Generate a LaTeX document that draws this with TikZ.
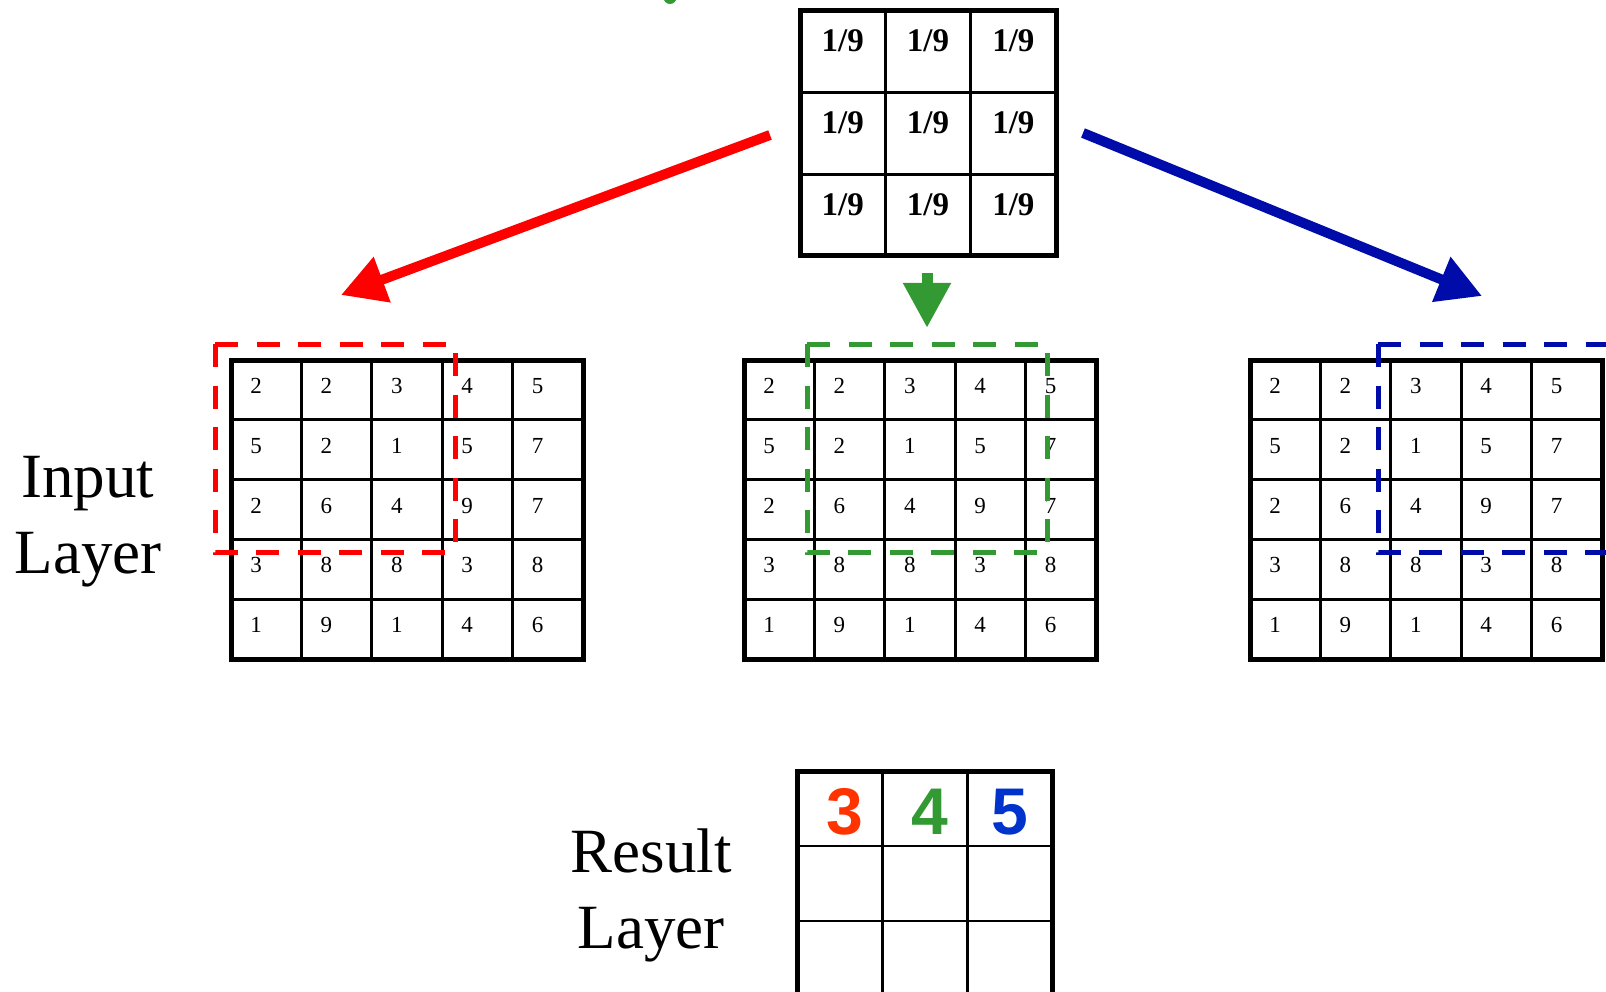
\documentclass[tikz,border=0pt]{standalone}
\usepackage{fontspec}
\setmainfont{Liberation Serif}
\newfontfamily\numsans{Liberation Sans}
\usetikzlibrary{arrows.meta}

\definecolor{kred}{RGB}{255,0,0}
\definecolor{kgreen}{RGB}{51,153,51}
\definecolor{kblue}{RGB}{0,12,170}
\definecolor{rred}{RGB}{255,51,0}
\definecolor{rgreen}{RGB}{51,153,51}
\definecolor{rblue}{RGB}{0,51,204}

\begin{document}
\begin{tikzpicture}[x=1pt,y=-1pt,
  frame/.style={draw, line width=5pt, inner sep=0pt, outer sep=0pt, anchor=north west},
  gridline/.style={line width=2.8pt},
  cellnum/.style={font=\fontsize{23}{23}\selectfont, inner sep=0pt},
  kernum/.style={font=\bfseries\fontsize{33}{33}\selectfont, inner sep=0pt},
  resnum/.style={font=\numsans\bfseries\fontsize{66}{66}\selectfont, inner sep=0pt},
  lbl/.style={font=\fontsize{63}{63}\selectfont, inner sep=0pt, anchor=base},
  window/.style={line width=5pt, dash pattern=on 23pt off 18.5pt},
  bigarrow/.style={line width=10pt, -{Triangle[length=44pt,width=46pt]}},
]
\useasboundingbox (0,0) rectangle (1606,992);
\clip (0,0) rectangle (1606,992);

% small green mark at the top edge
\fill[kgreen] (670,-2.5) circle (6.5);

% 3x3 averaging kernel
\foreach \k in {1,2}{
  \draw[gridline] (800+\k*85.333,11) -- (800+\k*85.333,256);
  \draw[gridline] (800,11+\k*81.667) -- (1056,11+\k*81.667);
}
\node[frame, minimum width=256pt, minimum height=245pt] (kernel) at (800,11) {};
\foreach \r in {1,2,3}{
  \foreach \c in {1,2,3}{
    \node[kernum] (k-\r-\c) at (800+\c*85.333-42.667, 11+\r*81.667-51.667) {1/9};
  }
}

% three copies of the 5x5 input layer
\foreach \gx/\gid in {231/L,744/M,1250/R}{
  \foreach \k in {1,...,4}{
    \draw[gridline] (\gx+\k*70.4,360) -- (\gx+\k*70.4,659);
    \draw[gridline] (\gx,360+\k*59.8) -- (\gx+352,360+\k*59.8);
  }
  \node[frame, minimum width=352pt, minimum height=299pt] (\gid frame) at (\gx,360) {};
  \foreach \row [count=\r] in {{2,2,3,4,5},{5,2,1,5,7},{2,6,4,9,7},{3,8,8,3,8},{1,9,1,4,6}}{
    \foreach \v [count=\c] in \row {
      \node[cellnum] (\gid-\r-\c) at (\gx+\c*70.4-45.4, 360+\r*59.8-33.8) {\v};
    }
  }
}

% sliding 3x3 windows
\draw[window, kred]   (215,344) -- (455,344) -- (455,552)   (215,344) -- (215,552) -- (455,552);
\draw[window, kgreen] (807,344) -- (1047,344) -- (1047,552) (807,344) -- (807,552) -- (1047,552);
\draw[window, kblue]  (1378,344) -- (1618,344) -- (1618,552) (1378,344) -- (1378,552) -- (1618,552);

% arrows from the kernel to each window
\coordinate (redTail) at (770,135);
\coordinate (redTip) at (341,295);
\coordinate (blueTail) at (1083,133);
\coordinate (blueTip) at (1482,296);
\coordinate (greenTail) at (927,273);
\coordinate (greenTip) at (927,328);
\draw[bigarrow, kred] (redTail) -- (redTip);
\draw[bigarrow, kblue] (blueTail) -- (blueTip);
\draw[line width=11pt, kgreen, -{Triangle[length=45pt,width=45pt]}] (greenTail) -- (greenTip);

% result layer
\foreach \k in {1,2}{
  \draw[gridline] (797.5+\k*85,771) -- (797.5+\k*85,997);
  \draw[gridline] (797.5,771+\k*75) -- (1052.5,771+\k*75);
}
\node[frame, minimum width=255pt, minimum height=226pt] (result) at (797.5,771) {};
\node[resnum, text=rred]   (res-1) at (845,812) {3};
\node[resnum, text=rgreen] (res-2) at (930,812) {4};
\node[resnum, text=rblue]  (res-3) at (1010,812) {5};

% labels
\node[lbl] (inputTop) at (88,497) {Input};
\node[lbl] (inputBot) at (88,573) {Layer};
\node[lbl] (resultTop) at (651,872) {Result};
\node[lbl] (resultBot) at (651,948) {Layer};
\end{tikzpicture}
\end{document}
